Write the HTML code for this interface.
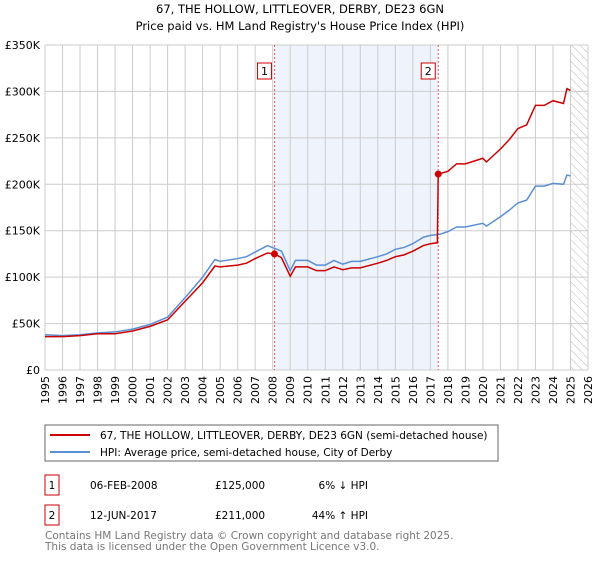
<!DOCTYPE html>
<html><head><meta charset="utf-8"><style>
body{margin:0;background:#fff;font-family:"Liberation Sans","DejaVu Sans",sans-serif;}
svg text{font-family:"DejaVu Sans","Liberation Sans",sans-serif;}
</style></head><body>
<svg id="c" width="600" height="560" xmlns="http://www.w3.org/2000/svg">
<defs><pattern id="hatch" width="6" height="6" patternUnits="userSpaceOnUse" patternTransform="rotate(-45)"><line x1="0" y1="0" x2="0" y2="6" stroke="#bbb" stroke-width="1"/></pattern></defs>
<text x="300" y="13" text-anchor="middle" font-size="11.5">67, THE HOLLOW, LITTLEOVER, DERBY, DE23 6GN</text>
<text x="300" y="30" text-anchor="middle" font-size="11.5">Price paid vs. HM Land Registry's House Price Index (HPI)</text>
<g id="plot"></g>
<rect x="45" y="425" width="453" height="36" fill="#fff" stroke="#666"/>
<line x1="50" y1="435" x2="90" y2="435" stroke="#cc0000" stroke-width="2"/>
<text x="100" y="439" font-size="10.5">67, THE HOLLOW, LITTLEOVER, DERBY, DE23 6GN (semi-detached house)</text>
<line x1="50" y1="452" x2="90" y2="452" stroke="#5b8fd4" stroke-width="2"/>
<text x="100" y="456" font-size="10.5">HPI: Average price, semi-detached house, City of Derby</text>
<g font-size="10.5">
<rect x="45" y="475" width="14" height="20" fill="#fff" stroke="#cc0000"/><text x="52" y="489" text-anchor="middle">1</text>
<text x="90" y="489">06-FEB-2008</text><text x="215" y="489">£125,000</text><text x="368" y="489" text-anchor="end">6% ↓ HPI</text></g>
<g font-size="10.5">
<rect x="45" y="505" width="14" height="20" fill="#fff" stroke="#cc0000"/><text x="52" y="519" text-anchor="middle">2</text>
<text x="90" y="519">12-JUN-2017</text><text x="215" y="519">£211,000</text><text x="368" y="519" text-anchor="end">44% ↑ HPI</text></g>
<text x="45" y="539" font-size="10.5" fill="#777">Contains HM Land Registry data © Crown copyright and database right 2025.</text>
<text x="45" y="550" font-size="10.5" fill="#777">This data is licensed under the Open Government Licence v3.0.</text>
</svg>
<script>
const yTicks=[0,50,100,150,200,250,300,350];
const yLabels=["£0","£50K","£100K","£150K","£200K","£250K","£300K","£350K"];
const xYears=[1995,1996,1997,1998,1999,2000,2001,2002,2003,2004,2005,2006,2007,2008,2009,2010,2011,2012,2013,2014,2015,2016,2017,2018,2019,2020,2021,2022,2023,2024,2025,2026];
const hpiT=[1995,1996,1997,1998,1999,2000,2001,2002,2003,2004,2004.7,2005,2006,2006.5,2007,2007.7,2008.1,2008.5,2009,2009.3,2010,2010.5,2011,2011.5,2012,2012.5,2013,2014,2014.5,2015,2015.5,2016,2016.6,2017,2017.5,2018,2018.5,2019,2020,2020.2,2021,2021.5,2022,2022.5,2023,2023.5,2024,2024.6,2024.8,2025];
const hpiV=[38,37,38,40,41,44,49,57,78,100,119,117,120,122,127,134,131,128,107,118,118,113,113,118,114,117,117,122,125,130,132,136,143,145,146,149,154,154,158,155,165,172,180,183,198,198,201,200,210,209];
const redT=[1995,1996,1997,1998,1999,2000,2001,2002,2003,2004,2004.7,2005,2006,2006.5,2007,2007.7,2008.1,2008.5,2009,2009.3,2010,2010.5,2011,2011.5,2012,2012.5,2013,2014,2014.5,2015,2015.5,2016,2016.6,2017,2017.4,2017.45,2018,2018.5,2019,2020,2020.2,2021,2021.5,2022,2022.5,2023,2023.5,2024,2024.6,2024.8,2025];
const redV=[36,36,37,39,39,42,47,54,74,94,112,111,113,115,120,126,125,121,101,111,111,107,107,111,108,110,110,115,118,122,124,128,134,136,137,211,214,222,222,228,224,238,248,260,264,285,285,290,287,303,301];
const saleT=[2008.1,2017.45];
const saleV=[125,211];
const saleLabels=["1","2"];
const X0=45,X1=588,Y0=370,Y1=45;
const xs=t=>X0+(t-1995)*(X1-X0)/31;
const ys=v=>Y0-v*(Y0-Y1)/350;
const NS="http://www.w3.org/2000/svg";
const g=document.getElementById('plot');
function mk(tag,attrs){const e=document.createElementNS(NS,tag);for(const k in attrs)e.setAttribute(k,attrs[k]);g.appendChild(e);return e;}
let e=mk('rect',{x:xs(saleT[0]),y:Y1,width:xs(saleT[1])-xs(saleT[0]),height:Y0-Y1,fill:'#eef3fc'});


e=mk('rect',{x:xs(2025),y:Y1,width:X1-xs(2025),height:Y0-Y1,fill:'url(#hatch)'});


xYears.forEach(y=>{e=mk('line',{x1:xs(y),x2:xs(y),y1:Y1,y2:Y0,stroke:'#ccc','stroke-width':1});


e=mk('text',{x:0,y:0,'font-size':11,'text-anchor':'end',transform:`translate(${xs(y)+4},${Y0+6}) rotate(-90)`});e.textContent=y;

});
yTicks.forEach((v,i)=>{e=mk('line',{x1:X0,x2:X1,y1:ys(v),y2:ys(v),stroke:'#ccc','stroke-width':1});


e=mk('text',{x:X0-5,y:ys(v)+4,'font-size':11,'text-anchor':'end'});e.textContent=yLabels[i];

});
saleT.forEach((t,i)=>{e=mk('line',{x1:xs(t),x2:xs(t),y1:Y1,y2:Y0,stroke:'#e55','stroke-width':1,'stroke-dasharray':'2,2'});


e=mk('rect',{x:xs(t)-17,y:63,width:14,height:16,fill:'#fff',stroke:'#cc0000'});


e=mk('text',{x:xs(t)-10,y:75,'font-size':11,'text-anchor':'middle'});e.textContent=saleLabels[i];

});
e=mk('polyline',{points:hpiT.map((t,i)=>xs(t)+','+ys(hpiV[i])).join(' '),fill:'none',stroke:'#5b8fd4','stroke-width':1.5});


e=mk('polyline',{points:redT.map((t,i)=>xs(t)+','+ys(redV[i])).join(' '),fill:'none',stroke:'#cc0000','stroke-width':1.5});


saleT.forEach((t,i)=>{e=mk('circle',{cx:xs(t),cy:ys(saleV[i]),r:3.5,fill:'#cc0000'});

});
</script>
</body></html>
